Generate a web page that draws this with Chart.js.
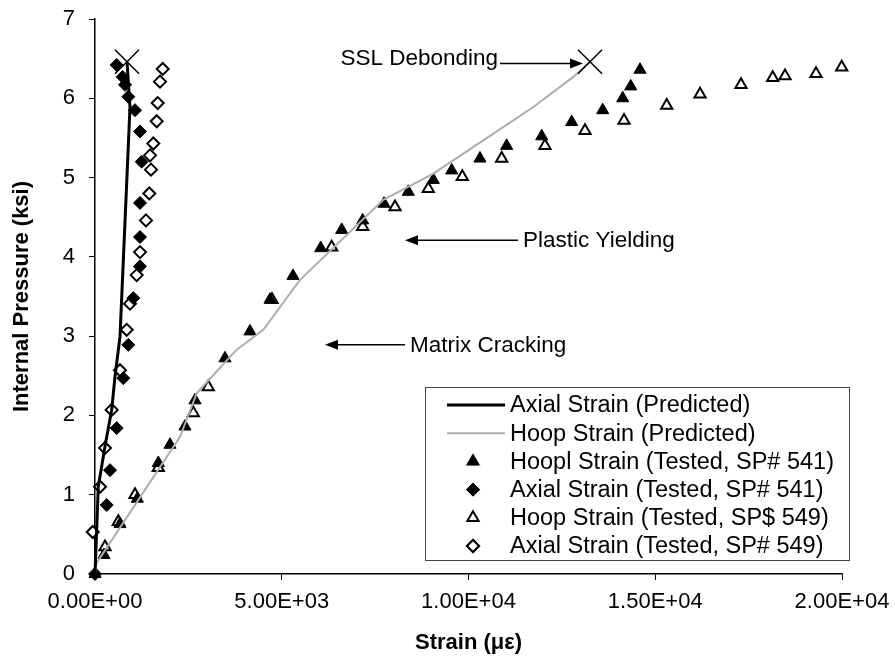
<!DOCTYPE html>
<html>
<head>
<meta charset="utf-8">
<script src="https://cdn.jsdelivr.net/npm/chart.js@4.4.1/dist/chart.umd.min.js"></script>
<style>
  html, body { margin: 0; padding: 0; background: #fff; }
  #wrap { width: 895px; height: 662px; }
</style>
</head>
<body>
<div id="wrap"><canvas id="chart" width="895" height="662"></canvas></div>
<script>
// strain in micro-strain, pressure in ksi
var axialPredX = [0, 88, 268, 447, 535, 669, 937, 857];
var axialPredY = [0, 1.10, 1.61, 2.07, 2.49, 2.99, 5.89, 6.46];

var hoopPredX = [0, 46, 2276, 2723, 3794, 4506, 5489, 7719, 9058, 10396, 11735, 12806, 13253];
var hoopPredY = [0, 0.14, 1.73, 2.28, 2.83, 3.08, 3.71, 4.72, 5.05, 5.47, 5.89, 6.27, 6.46];

var hoop541X = [0, 241, 669, 1133, 1695, 2008, 2410, 2677, 3481, 4150, 4685, 5301, 6043, 6605, 7167, 7738, 8388, 9058, 9550, 10307, 11022, 11960, 12763, 13593, 14129, 14343, 14592];
var hoop541Y = [0, 0.24, 0.63, 0.95, 1.40, 1.63, 1.86, 2.19, 2.72, 3.06, 3.46, 3.76, 4.11, 4.34, 4.46, 4.67, 4.82, 4.97, 5.09, 5.24, 5.40, 5.52, 5.70, 5.85, 6.00, 6.15, 6.36];

var axial541X = [0, 313, 402, 581, 758, 892, 1025, 1205, 1205, 1205, 1250, 1205, 1071, 892, 803, 742, 581];
var axial541Y = [0, 0.87, 1.31, 1.84, 2.47, 2.89, 3.48, 3.88, 4.25, 4.68, 5.20, 5.58, 5.85, 6.02, 6.17, 6.27, 6.42];

var hoop549X = [268, 624, 1071, 1695, 2632, 3033, 4739, 6337, 7167, 8032, 8924, 9834, 10889, 12048, 13119, 14164, 15307, 16200, 17296, 18145, 18474, 19304, 19992];
var hoop549Y = [0.34, 0.66, 1.00, 1.34, 2.03, 2.36, 3.46, 4.12, 4.38, 4.63, 4.86, 5.01, 5.24, 5.40, 5.59, 5.72, 5.91, 6.05, 6.17, 6.26, 6.28, 6.31, 6.39];

var axial549X = [-60, 134, 268, 447, 669, 849, 937, 1116, 1205, 1365, 1454, 1499, 1473, 1561, 1652, 1679, 1740, 1813];
var axial549Y = [0.53, 1.10, 1.59, 2.07, 2.57, 3.08, 3.41, 3.77, 4.06, 4.46, 4.80, 5.10, 5.28, 5.43, 5.71, 5.94, 6.21, 6.37];

var xTicks = [0, 5000, 10000, 15000, 20000];
var yTicks = [0, 1, 2, 3, 4, 5, 6, 7];

var seriesLabels = [
    "Axial Strain (Predicted)",
    "Hoop Strain (Predicted)",
    "Hoopl Strain (Tested, SP# 541)",
    "Axial Strain (Tested, SP# 541)",
    "Hoop Strain (Tested, SP$ 549)",
    "Axial Strain (Tested, SP# 549)"
];

// annotation text + arrow, anchors in data units
var notes = [
    { text: "SSL Debonding", tx: 10790, ty: 6.50, align: "right", ax1: 10843, ax2: 13066, ay: 6.44 },
    { text: "Plastic Yielding", tx: 11459, ty: 4.20, align: "left", ax1: 11326, ax2: 8300, ay: 4.21 },
    { text: "Matrix Cracking", tx: 8434, ty: 2.88, align: "left", ax1: 8300, ax2: 6158, ay: 2.89 }
];

function pts(xs, ys) {
    var out = [];
    for (var i = 0; i < xs.length; i++) out.push({ x: xs[i], y: ys[i] });
    return out;
}

// X marker only on the last point of the predicted lines
function endMarker(n) {
    var r = Array(n).fill(0);
    r[n - 1] = 17;
    return r;
}

function sci(v) {
    if (v === 0) return "0.00E+00";
    var e = Math.floor(Math.log10(v));
    var m = (v / Math.pow(10, e)).toFixed(2);
    return m + "E+" + (e < 10 ? "0" + e : e);
}

var FONT = "Arial, 'Liberation Sans', sans-serif";

var notesPlugin = {
    id: "notes",
    afterDatasetsDraw: function (chart) {
        var ctx = chart.ctx;
        var xs = chart.scales.x, ys = chart.scales.y;
        ctx.save();
        ctx.fillStyle = "#000";
        ctx.strokeStyle = "#000";
        ctx.font = "22.5px " + FONT;
        ctx.textBaseline = "middle";
        notes.forEach(function (n) {
            ctx.textAlign = n.align;
            ctx.fillText(n.text, xs.getPixelForValue(n.tx), ys.getPixelForValue(n.ty));
            var x1 = xs.getPixelForValue(n.ax1), x2 = xs.getPixelForValue(n.ax2);
            var y = ys.getPixelForValue(n.ay);
            var dir = x2 > x1 ? 1 : -1;
            ctx.lineWidth = 1.5;
            ctx.beginPath();
            ctx.moveTo(x1, y);
            ctx.lineTo(x2 - dir * 10, y);
            ctx.stroke();
            ctx.beginPath();
            ctx.moveTo(x2, y);
            ctx.lineTo(x2 - dir * 13, y - 5);
            ctx.lineTo(x2 - dir * 13, y + 5);
            ctx.closePath();
            ctx.fill();
        });
        ctx.restore();
    }
};

var legendPlugin = {
    id: "boxLegend",
    afterDraw: function (chart) {
        var ctx = chart.ctx;
        var left = 425, top = 387, right = 849, bottom = 560;
        ctx.save();
        ctx.fillStyle = "#fff";
        ctx.fillRect(left, top, right - left, bottom - top);
        ctx.strokeStyle = "#444";
        ctx.lineWidth = 1;
        ctx.strokeRect(left + 0.5, top + 0.5, right - left, bottom - top);
        ctx.font = "23.5px " + FONT;
        ctx.textBaseline = "middle";
        ctx.textAlign = "left";
        chart.data.datasets.forEach(function (ds, i) {
            var y = top + 18 + i * 28.2;
            if (ds.showLine) {
                ctx.strokeStyle = ds.borderColor;
                ctx.lineWidth = ds.borderWidth;
                ctx.beginPath();
                ctx.moveTo(447, y);
                ctx.lineTo(505, y);
                ctx.stroke();
            } else {
                Chart.helpers.drawPoint(ctx, {
                    pointStyle: ds.pointStyle,
                    radius: ds.pointRadius,
                    borderWidth: ds.pointBorderWidth,
                    rotation: 0
                }, 473, y);
                ctx.fillStyle = ds.pointBackgroundColor;
                ctx.strokeStyle = ds.pointBorderColor;
                ctx.lineWidth = ds.pointBorderWidth;
                ctx.fill();
                if (ds.pointBorderWidth > 0) ctx.stroke();
            }
            ctx.fillStyle = "#000";
            ctx.fillText(ds.label, 510, y + 1);
        });
        ctx.restore();
    }
};

var chart = new Chart(document.getElementById("chart"), {
    type: "scatter",
    data: {
        datasets: [
            {
                label: seriesLabels[0],
                data: pts(axialPredX, axialPredY),
                showLine: true,
                borderColor: "#000",
                borderWidth: 3,
                pointStyle: "crossRot",
                pointRadius: endMarker(axialPredX.length),
                pointBorderColor: "#000",
                pointBorderWidth: 1.5,
                clip: false
            },
            {
                label: seriesLabels[1],
                data: pts(hoopPredX, hoopPredY),
                showLine: true,
                borderColor: "#adadad",
                borderWidth: 2,
                pointStyle: "crossRot",
                pointRadius: endMarker(hoopPredX.length),
                pointBorderColor: "#000",
                pointBorderWidth: 1.5,
                clip: false
            },
            {
                label: seriesLabels[2],
                data: pts(hoop541X, hoop541Y),
                pointStyle: "triangle",
                pointRadius: 7,
                pointBackgroundColor: "#000",
                pointBorderColor: "#000",
                pointBorderWidth: 1,
                clip: false
            },
            {
                label: seriesLabels[3],
                data: pts(axial541X, axial541Y),
                pointStyle: "rectRot",
                pointRadius: 6.5,
                pointBackgroundColor: "#000",
                pointBorderColor: "#000",
                pointBorderWidth: 1,
                clip: false
            },
            {
                label: seriesLabels[4],
                data: pts(hoop549X, hoop549Y),
                pointStyle: "triangle",
                pointRadius: 6.5,
                pointBackgroundColor: "#fff",
                pointBorderColor: "#000",
                pointBorderWidth: 2,
                clip: false
            },
            {
                label: seriesLabels[5],
                data: pts(axial549X, axial549Y),
                pointStyle: "rectRot",
                pointRadius: 6,
                pointBackgroundColor: "#fff",
                pointBorderColor: "#000",
                pointBorderWidth: 2,
                clip: false
            }
        ]
    },
    options: {
        responsive: false,
        animation: false,
        layout: { padding: { top: 19, right: 53, left: 0, bottom: 0 } },
        plugins: {
            legend: { display: false },
            tooltip: { enabled: false }
        },
        scales: {
            x: {
                type: "linear",
                min: 0,
                max: 20000,
                afterBuildTicks: function (s) { s.ticks = xTicks.map(function (v) { return { value: v }; }); },
                afterFit: function (s) {
                    s.height = 88;
                    s.paddingLeft = 0;
                    s.paddingRight = 0;
                },
                border: { display: true, color: "#000", width: 1.5 },
                grid: { drawOnChartArea: false, drawTicks: true, tickLength: 6, color: "#000" },
                ticks: {
                    color: "#000",
                    font: { family: FONT, size: 22 },
                    padding: 9,
                    maxRotation: 0,
                    callback: function (v) { return sci(v); }
                },
                title: {
                    display: true,
                    text: "Strain (\u03bc\u03b5)",
                    color: "#000",
                    font: { family: FONT, size: 22, weight: "bold" },
                    padding: { top: 0, bottom: 6 }
                }
            },
            y: {
                type: "linear",
                min: 0,
                max: 7,
                afterBuildTicks: function (s) { s.ticks = yTicks.map(function (v) { return { value: v }; }); },
                afterFit: function (s) {
                    s.width = 95;
                    s.paddingTop = 0;
                    s.paddingBottom = 0;
                },
                border: { display: true, color: "#000", width: 1.5 },
                grid: { drawOnChartArea: false, drawTicks: true, tickLength: 6, color: "#000" },
                ticks: {
                    color: "#000",
                    font: { family: FONT, size: 22 },
                    padding: 14
                },
                title: {
                    display: true,
                    text: "Internal Pressure (ksi)",
                    color: "#000",
                    font: { family: FONT, size: 22, weight: "bold" },
                    padding: { top: 9, bottom: 0 }
                }
            }
        }
    },
    plugins: [notesPlugin, legendPlugin]
});
</script>
</body>
</html>
